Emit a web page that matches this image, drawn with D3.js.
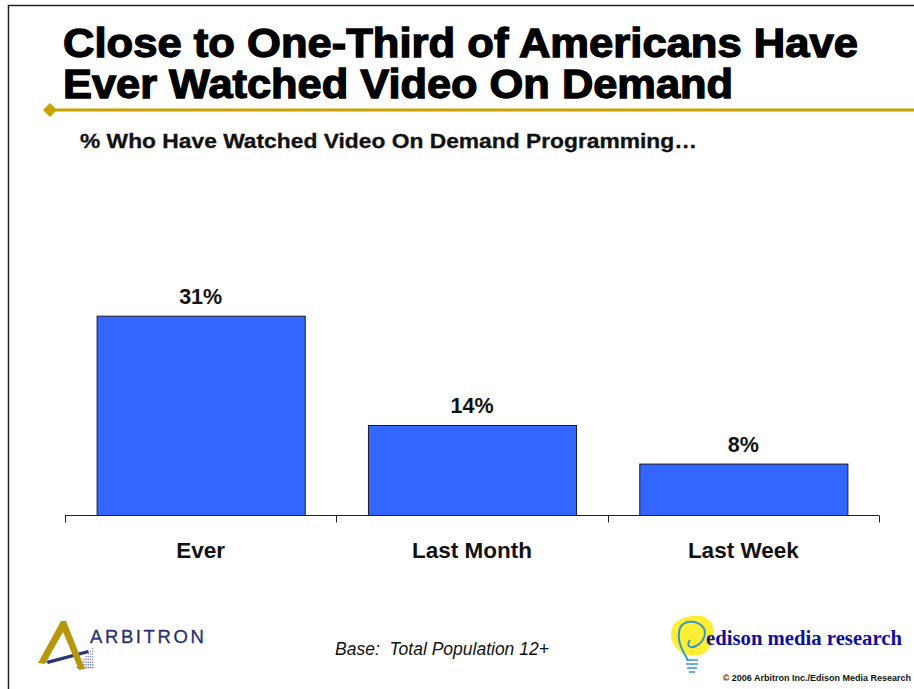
<!DOCTYPE html>
<html>
<head>
<meta charset="utf-8">
<script src="https://cdn.jsdelivr.net/npm/d3@7"></script>
<style>
  html, body { margin: 0; padding: 0; background: #fff; }
  svg { display: block; }
</style>
</head>
<body>
<svg id="chart" width="914" height="689"></svg>
<script>
// Survey data
const categories = ["Ever", "Last Month", "Last Week"];
const values = [31, 14, 8];
const valueLabels = ["31%", "14%", "8%"];

const titleLines = ["Close to One-Third of Americans Have", "Ever Watched Video On Demand"];
const subtitle = "% Who Have Watched Video On Demand Programming\u2026";
const baseNote = "Base:  Total Population 12+";
const copyright = "\u00a9 2006 Arbitron Inc./Edison Media Research";

const svg = d3.select("#chart");

// Slide frame
svg.append("path")
  .attr("d", "M8.5,689 V5.5 H914")
  .attr("fill", "none").attr("stroke", "#222").attr("stroke-width", 1.5);

// Title
const title = svg.append("g").attr("font-family", "Liberation Sans, Arial, sans-serif")
  .attr("font-weight", "bold").attr("font-size", 40).attr("fill", "#000");
title.selectAll("text").data(titleLines).join("text")
  .attr("x", 63).attr("y", (d, i) => 57 + i * 41)
  .attr("textLength", (d, i) => i === 0 ? 795 : 670)
  .attr("lengthAdjust", "spacingAndGlyphs")
  .attr("stroke", "#000").attr("stroke-width", 1.3)
  .text(d => d);

// Gold rule with diamond
svg.append("line").attr("x1", 50).attr("x2", 914).attr("y1", 110).attr("y2", 110)
  .attr("stroke", "#c8a200").attr("stroke-width", 3);
svg.append("path").attr("d", "M43,110 L50,103 L57,110 L50,117 Z").attr("fill", "#c8a200");

// Subtitle
svg.append("text").attr("x", 80).attr("y", 148)
  .attr("font-family", "Liberation Sans, Arial, sans-serif").attr("font-weight", "bold")
  .attr("font-size", 20).attr("fill", "#111")
  .attr("stroke", "#111").attr("stroke-width", 0.3)
  .attr("textLength", 617).attr("lengthAdjust", "spacingAndGlyphs")
  .text(subtitle);

// Chart area
const axisY = 515.5;
const x = d3.scaleBand().domain(categories).range([65, 879])
  .paddingInner(0.233).paddingOuter(0.1165);
const y = d3.scaleLinear().domain([0, 35]).range([axisY, axisY - 35 * 6.43]);
const step = x.step();

const g = svg.append("g");

g.selectAll("rect.bar").data(values).join("rect")
  .attr("class", "bar")
  .attr("x", (d, i) => x(categories[i]) + 0.5)
  .attr("width", x.bandwidth())
  .attr("y", d => y(d))
  .attr("height", d => axisY - y(d))
  .attr("fill", "#3366ff").attr("stroke", "#1a1a1a").attr("stroke-width", 1);

// Category axis
g.append("line").attr("x1", 65).attr("x2", 879).attr("y1", axisY).attr("y2", axisY)
  .attr("stroke", "#222").attr("stroke-width", 1);
g.selectAll("line.tick").data(d3.range(categories.length + 1)).join("line")
  .attr("class", "tick")
  .attr("x1", i => Math.round(65 + i * step) + 0.5)
  .attr("x2", i => Math.round(65 + i * step) + 0.5)
  .attr("y1", axisY).attr("y2", axisY + 7)
  .attr("stroke", "#222").attr("stroke-width", 1);

// Value labels
g.selectAll("text.val").data(values).join("text")
  .attr("class", "val")
  .attr("x", (d, i) => x(categories[i]) + x.bandwidth() / 2)
  .attr("y", d => y(d) - 12)
  .attr("text-anchor", "middle")
  .attr("font-family", "Liberation Sans, Arial, sans-serif").attr("font-weight", "bold")
  .attr("font-size", 21.5).attr("fill", "#111")
  .text((d, i) => valueLabels[i]);

// Category labels
g.selectAll("text.cat").data(categories).join("text")
  .attr("class", "cat")
  .attr("x", d => x(d) + x.bandwidth() / 2)
  .attr("y", 558)
  .attr("text-anchor", "middle")
  .attr("font-family", "Liberation Sans, Arial, sans-serif").attr("font-weight", "bold")
  .attr("font-size", 22.5).attr("fill", "#111")
  .text(d => d);

// Base note
svg.append("text").attr("x", 335).attr("y", 655)
  .attr("font-family", "Liberation Sans, Arial, sans-serif").attr("font-style", "italic")
  .attr("font-size", 17.5).attr("fill", "#111")
  .attr("xml:space", "preserve")
  .text(baseNote);

// Copyright
svg.append("text").attr("x", 911).attr("y", 681).attr("text-anchor", "end")
  .attr("font-family", "Liberation Sans, Arial, sans-serif").attr("font-weight", "bold")
  .attr("font-size", 9).attr("fill", "#111")
  .text(copyright);

// Arbitron logo
const arb = svg.append("g");
const dots = arb.append("g").attr("fill", "#3a4a9a");
for (let r = 0; r < 8; r++) {
  for (let c = 0; c <= r; c++) {
    dots.append("rect")
      .attr("x", 92 - c * 2.2).attr("y", 648 + r * 2.7)
      .attr("width", 1.3).attr("height", 1.3)
      .attr("opacity", 0.5 + 0.06 * r);
  }
}
arb.append("path").attr("d", "M46,661 L88,650 L89,653 L48,664 Z").attr("fill", "#2a3375");
arb.append("path")
  .attr("d", "M61,621 L66,621 L85,669 L79,670 L63,632 L45,664 L38,663 Z")
  .attr("fill", "#b8960c");
arb.append("text").attr("x", 90).attr("y", 643)
  .attr("font-family", "Liberation Sans, Arial, sans-serif")
  .attr("font-size", 18.5).attr("fill", "#2a2f6e")
  .attr("stroke", "#2a2f6e").attr("stroke-width", 0.3)
  .attr("letter-spacing", 2.6)
  .text("ARBITRON");

// Edison logo
const ed = svg.append("g");
ed.append("path")
  .attr("d", "M676,622 C690,612 708,614 712,624 C716,634 712,646 706,652 C698,658 684,656 678,650 C670,642 668,630 676,622 Z")
  .attr("fill", "#ffee33");
ed.append("path")
  .attr("d", "M688,660 C682,650 676,640 680,628 C684,620 696,620 702,626 C708,632 704,642 696,646 C690,649 686,646 690,640")
  .attr("fill", "none").attr("stroke", "#3399cc").attr("stroke-width", 2);
ed.append("path").attr("d", "M686,660 L698,660 M686,664 L698,664 M687,668 L697,668 M689,672 L695,672")
  .attr("stroke", "#3399cc").attr("stroke-width", 1.6);
ed.append("text").attr("x", 706).attr("y", 645)
  .attr("font-family", "Liberation Serif, Times New Roman, serif").attr("font-weight", "bold")
  .attr("font-size", 20).attr("fill", "#1010a0")
  .attr("textLength", 196).attr("lengthAdjust", "spacingAndGlyphs")
  .text("edison media research");
</script>
</body>
</html>
